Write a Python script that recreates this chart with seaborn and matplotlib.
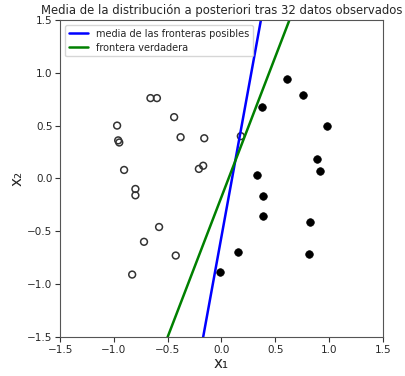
import numpy as np
import pandas as pd
import matplotlib
matplotlib.use("Agg")
import matplotlib.pyplot as plt
import seaborn as sns

# Observed points, class 0 (open markers)
x1_neg = [-0.66, -0.60, -0.44, -0.97, -0.96, -0.95, -0.38, -0.16, -0.905,
          -0.17, -0.21, -0.80, -0.80, 0.18, -0.58, -0.72, -0.425, -0.83]
x2_neg = [0.76, 0.76, 0.58, 0.50, 0.36, 0.34, 0.39, 0.38, 0.08,
          0.12, 0.09, -0.10, -0.16, 0.40, -0.46, -0.60, -0.73, -0.91]

# Observed points, class 1 (filled markers)
x1_pos = [0.605, 0.76, 0.375, 0.98, 0.89, 0.92, 0.33, 0.39, 0.385,
          0.825, 0.15, 0.815, -0.015]
x2_pos = [0.94, 0.79, 0.675, 0.50, 0.18, 0.07, 0.035, -0.17, -0.36,
          -0.41, -0.70, -0.72, -0.89]

# Boundaries written as x2 = slope * x1 + intercept
mean_slope, mean_intercept = 5.59, -0.55
true_slope, true_intercept = 2.65, -0.175

n_obs = 32
ticks = [-1.5, -1.0, -0.5, 0.0, 0.5, 1.0, 1.5]

sns.set_style("white")
plt.rcParams["font.family"] = ["DejaVu Sans"]

fig = plt.figure(figsize=(4.06, 3.76), dpi=100)
ax = fig.add_axes([0.148, 0.104, 0.795, 0.843])

grid = np.linspace(-1.5, 1.5, 200)
lines = pd.DataFrame({
    "x1": np.concatenate([grid, grid]),
    "x2": np.concatenate([mean_slope * grid + mean_intercept,
                          true_slope * grid + true_intercept]),
    "curva": ["media de las fronteras posibles"] * len(grid)
             + ["frontera verdadera"] * len(grid),
})
sns.lineplot(data=lines, x="x1", y="x2", hue="curva",
             palette=["#0000ff", "#008000"], linewidth=1.8, ax=ax,
             sort=False, estimator=None)

sns.scatterplot(x=x1_neg, y=x2_neg, ax=ax, s=24, marker="o",
                facecolors="none", edgecolor="#333333", linewidth=1.1,
                legend=False)
sns.scatterplot(x=x1_pos, y=x2_pos, ax=ax, s=30, marker="o",
                color="black", edgecolor="black", linewidth=0.5,
                legend=False)

ax.set_xlim(-1.5, 1.5)
ax.set_ylim(-1.5, 1.5)
ax.set_xticks(ticks)
ax.set_yticks(ticks)
ax.tick_params(labelsize=7.5, length=3.5, width=0.8, color="#333333",
               direction="out", bottom=True, left=True, pad=2)
for s in ax.spines.values():
    s.set_color("#555555")
    s.set_linewidth(0.8)

ax.set_xlabel("x\u2081", fontsize=11, labelpad=1)
ax.set_ylabel("x\u2082", fontsize=11, labelpad=2)
ax.set_title(f"Media de la distribución a posteriori tras {n_obs} datos observados",
             fontsize=8.4, pad=4)

leg = ax.legend(loc="upper left", fontsize=7.0, frameon=True,
                handlelength=2.0, borderpad=0.4, labelspacing=0.4)
leg.get_frame().set_edgecolor("#cccccc")
leg.set_title(None)

fig.savefig("out.png", dpi=100)
